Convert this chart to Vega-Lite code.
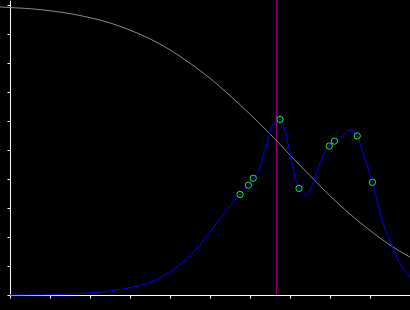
{
  "$schema": "https://vega.github.io/schema/vega-lite/v6.json",
  "width": 400,
  "height": 295,
  "autosize": {"type": "none"},
  "padding": {"left": 10, "top": 0, "right": 0, "bottom": 15},
  "background": "black",
  "config": {
    "view": {"stroke": null},
    "axis": {
      "labels": false, "grid": false, "title": null,
      "domainColor": "white", "tickColor": "white",
      "tickSize": 3, "domainWidth": 1, "tickWidth": 1,
      "values": [1, 2, 3, 4, 5, 6, 7, 8, 9], "zindex": 0
    }
  },
  "datasets": {
    "gray": [
      {"x": -0.25, "y": 9.94}, {"x": 0, "y": 9.92}, {"x": 0.5, "y": 9.88}, {"x": 1, "y": 9.81},
      {"x": 1.5, "y": 9.71}, {"x": 2, "y": 9.57}, {"x": 2.5, "y": 9.39}, {"x": 3, "y": 9.14},
      {"x": 3.5, "y": 8.84}, {"x": 4, "y": 8.46}, {"x": 4.5, "y": 8.0}, {"x": 5, "y": 7.48},
      {"x": 5.5, "y": 6.88}, {"x": 6, "y": 6.24}, {"x": 6.5, "y": 5.56}, {"x": 7, "y": 4.83},
      {"x": 7.5, "y": 4.12}, {"x": 8, "y": 3.42}, {"x": 8.5, "y": 2.79}, {"x": 9, "y": 2.23},
      {"x": 9.5, "y": 1.72}, {"x": 10, "y": 1.31}
    ],
    "blue": [
      {"x": 0, "y": 0}, {"x": 0.92, "y": 0.01}, {"x": 1.79, "y": 0.05}, {"x": 2.17, "y": 0.09},
      {"x": 2.46, "y": 0.13}, {"x": 2.79, "y": 0.2}, {"x": 3.17, "y": 0.3}, {"x": 3.5, "y": 0.43},
      {"x": 3.75, "y": 0.6}, {"x": 4.0, "y": 0.8}, {"x": 4.25, "y": 1.05}, {"x": 4.5, "y": 1.36},
      {"x": 4.75, "y": 1.74}, {"x": 5.0, "y": 2.17}, {"x": 5.25, "y": 2.64}, {"x": 5.625, "y": 3.28},
      {"x": 5.75, "y": 3.47}, {"x": 5.96, "y": 3.79}, {"x": 6.08, "y": 4.03}, {"x": 6.25, "y": 4.43},
      {"x": 6.42, "y": 5.23}, {"x": 6.58, "y": 5.92}, {"x": 6.75, "y": 6.06}, {"x": 6.875, "y": 5.69},
      {"x": 7.0, "y": 4.89}, {"x": 7.125, "y": 4.08}, {"x": 7.225, "y": 3.68}, {"x": 7.375, "y": 3.45},
      {"x": 7.5, "y": 3.62}, {"x": 7.67, "y": 4.25}, {"x": 7.83, "y": 4.83}, {"x": 7.98, "y": 5.14},
      {"x": 8.11, "y": 5.31}, {"x": 8.33, "y": 5.52}, {"x": 8.5, "y": 5.69}, {"x": 8.68, "y": 5.49},
      {"x": 8.83, "y": 4.89}, {"x": 9.06, "y": 3.89}, {"x": 9.21, "y": 3.05}, {"x": 9.33, "y": 2.47},
      {"x": 9.56, "y": 1.65}, {"x": 9.75, "y": 1.09}, {"x": 10, "y": 0.63}
    ],
    "pts": [
      {"x": 5.75, "y": 3.47}, {"x": 5.96, "y": 3.79}, {"x": 6.08, "y": 4.03},
      {"x": 6.75, "y": 6.06}, {"x": 7.225, "y": 3.68}, {"x": 7.98, "y": 5.14},
      {"x": 8.11, "y": 5.31}, {"x": 8.68, "y": 5.49}, {"x": 9.06, "y": 3.89}
    ],
    "vline": [{"x": 6.6625}]
  },
  "layer": [
    {
      "data": {"name": "vline"},
      "mark": {"type": "rule", "color": "#800080", "strokeWidth": 1},
      "encoding": {
        "x": {"field": "x", "type": "quantitative", "scale": {"domain": [0, 10], "nice": false, "zero": false},
              "axis": {"orient": "bottom"}}
      }
    },
    {
      "data": {"name": "gray"},
      "mark": {"type": "line", "color": "#8a8a8a", "strokeWidth": 1, "interpolate": "monotone", "clip": false},
      "encoding": {
        "x": {"field": "x", "type": "quantitative"},
        "y": {"field": "y", "type": "quantitative", "scale": {"domain": [0, 10.18], "nice": false, "zero": false},
              "axis": {"orient": "left"}}
      }
    },
    {
      "data": {"name": "blue"},
      "mark": {"type": "line", "color": "#0000ff", "strokeWidth": 1, "interpolate": "monotone"},
      "encoding": {
        "x": {"field": "x", "type": "quantitative"},
        "y": {"field": "y", "type": "quantitative"}
      }
    },
    {
      "data": {"name": "pts"},
      "mark": {"type": "point", "shape": "circle", "filled": false, "color": "#22ee22", "size": 40, "strokeWidth": 1, "opacity": 1},
      "encoding": {
        "x": {"field": "x", "type": "quantitative"},
        "y": {"field": "y", "type": "quantitative"}
      }
    }
  ]
}
